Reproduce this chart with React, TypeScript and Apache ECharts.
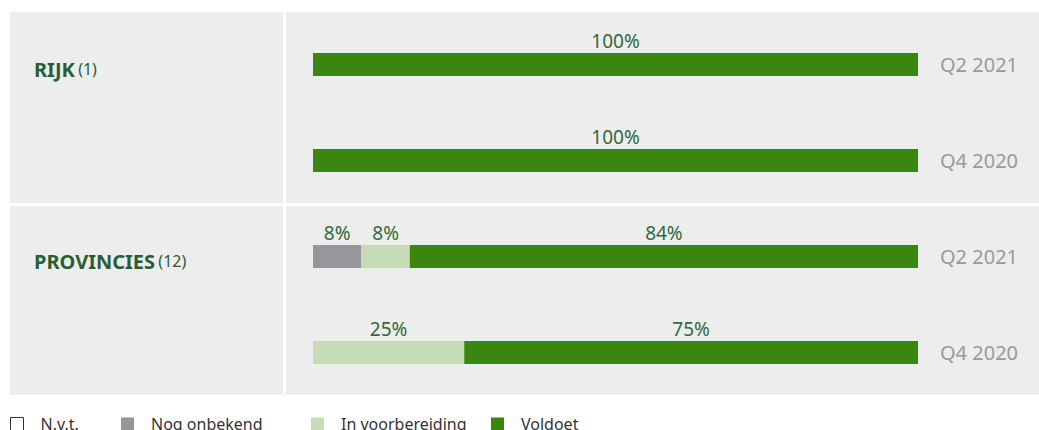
import React, { useEffect, useRef } from "react";
import * as echarts from "echarts";

// Rows (top to bottom)
const groups = ["RIJK", "PROVINCIES"];
const groupCounts = [1, 12];
const rowGroups = ["RIJK", "RIJK", "PROVINCIES", "PROVINCIES"];
const rowPeriods = ["Q2 2021", "Q4 2020", "Q2 2021", "Q4 2020"];

// Series values (%)
const seriesNames = ["N.v.t.", "Nog onbekend", "In voorbereiding", "Voldoet"];
const nvt = [0, 0, 0, 0];
const nogOnbekend = [0, 0, 8, 0];
const inVoorbereiding = [0, 0, 8, 25];
const voldoet = [100, 100, 84, 75];

const COLORS = {
  nvt: "#ffffff",
  nog: "#97979b",
  prep: "#c6dcb7",
  ok: "#3b860f",
  bg: "#ededed",
  labelGreen: "#2e6a3d",
  titleGreen: "#285e36",
  period: "#9a9a9a",
  legendText: "#333333",
};

const FONT = "'Noto Sans', 'Open Sans', sans-serif";

export default function App() {
  const ref = useRef<HTMLDivElement>(null);

  useEffect(() => {
    if (!ref.current) return;
    const chart = echarts.init(ref.current, undefined, { renderer: "svg" });

    const cats = rowGroups.map((g, i) => g + "|" + rowPeriods[i]);

    const mk = (name: string, data: number[], color: string) => ({
      name,
      type: "bar",
      stack: "total",
      barWidth: 23,
      data,
      itemStyle: { color },
      label: {
        show: true,
        position: "top",
        distance: 3,
        color: COLORS.labelGreen,
        fontFamily: FONT,
        fontSize: 19,
        formatter: (p: any) => (p.value > 0 ? p.value + "%" : ""),
      },
    });

    const legendPositions = [10, 121, 311, 491];
    const legendColors = [COLORS.nvt, COLORS.nog, COLORS.prep, COLORS.ok];

    const option: any = {
      animation: false,
      graphic: [
        {
          type: "rect",
          z: 0,
          shape: { x: 10, y: 12, width: 1029, height: 383 },
          style: { fill: COLORS.bg },
        },
        {
          type: "rect",
          z: 0,
          shape: { x: 283, y: 12, width: 3, height: 383 },
          style: { fill: "#ffffff" },
        },
        {
          type: "rect",
          z: 0,
          shape: { x: 10, y: 203, width: 1029, height: 3 },
          style: { fill: "#ffffff" },
        },
        ...groups.map((g, i) => ({
          type: "text",
          z: 1,
          x: 34,
          y: i === 0 ? 69 : 261,
          style: {
            text: `{b|${g}} {n|(${groupCounts[i]})}`,
            verticalAlign: "middle",
            rich: {
              b: {
                fontFamily: FONT,
                fontWeight: "bold",
                fontSize: 20,
                fill: COLORS.titleGreen,
                color: COLORS.titleGreen,
              },
              n: {
                fontFamily: FONT,
                fontSize: 16,
                fill: COLORS.titleGreen,
                color: COLORS.titleGreen,
              },
            },
          },
        })),
      ],
      legend: seriesNames.map((n, i) => ({
        data: [
          {
            name: n,
            itemStyle:
              i === 0
                ? { color: "#ffffff", borderColor: "#333333", borderWidth: 1 }
                : { color: legendColors[i] },
          },
        ],
        left: legendPositions[i],
        top: 416,
        padding: 0,
        icon: "rect",
        itemWidth: 13,
        itemHeight: 13,
        selectedMode: false,
        textStyle: {
          fontFamily: FONT,
          fontSize: 16,
          color: COLORS.legendText,
          padding: [0, 0, 0, 12],
        },
      })),
      grid: { left: 313, right: 121, top: 16.5, height: 384 },
      xAxis: { type: "value", min: 0, max: 100, show: false },
      yAxis: {
        type: "category",
        data: cats,
        inverse: true,
        position: "right",
        axisLine: { show: false },
        axisTick: { show: false },
        splitLine: { show: false },
        axisLabel: {
          margin: 22,
          color: COLORS.period,
          fontFamily: FONT,
          fontSize: 20,
          formatter: (v: string) => v.split("|")[1],
        },
      },
      series: [
        mk(seriesNames[0], nvt, COLORS.nvt),
        mk(seriesNames[1], nogOnbekend, COLORS.nog),
        mk(seriesNames[2], inVoorbereiding, COLORS.prep),
        mk(seriesNames[3], voldoet, COLORS.ok),
      ],
    };

    chart.setOption(option);
    return () => chart.dispose();
  }, []);

  return (
    <div
      ref={ref}
      style={{ position: "absolute", left: 0, top: 0, width: 1039, height: 430 }}
    />
  );
}
